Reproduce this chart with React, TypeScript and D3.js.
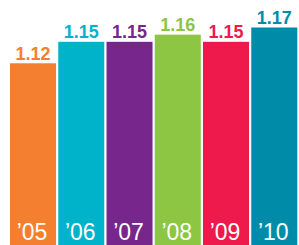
import React from "react";
import * as d3 from "d3";

const years = ["’05", "’06", "’07", "’08", "’09", "’10"];
const values = [1.12, 1.15, 1.15, 1.16, 1.15, 1.17];
const colors = ["#F47F30", "#00B3CB", "#77278B", "#8DC642", "#EE1A4B", "#008CA8"];

const W = 299;
const H = 245;

export default function App() {
  const x = d3.scaleBand<string>().domain(years).range([10, 297.3]).paddingInner(0.046).paddingOuter(0);
  const y = d3.scaleLinear().domain([0.866, 1.17]).range([H, 27.5]);
  return (
    <svg width={W} height={H} style={{ position: "absolute", left: 0, top: 0, background: "#fff" }}
      fontFamily="'Liberation Sans', Arial, sans-serif">
      {years.map((yr, i) => {
        const bx = x(yr)!;
        const bw = x.bandwidth();
        const top = y(values[i]);
        return (
          <g key={yr}>
            <rect x={bx} y={top} width={bw} height={H - top} fill={colors[i]} />
            <text x={bx + bw / 2} y={top - 3.5} textAnchor="middle" fontSize={18} fontWeight="bold" fill={colors[i]}>
              {values[i].toFixed(2)}
            </text>
            <text x={bx + bw / 2 - 1} y={239.5} textAnchor="middle" fontSize={23} fill="#fff">
              {yr}
            </text>
          </g>
        );
      })}
    </svg>
  );
}
